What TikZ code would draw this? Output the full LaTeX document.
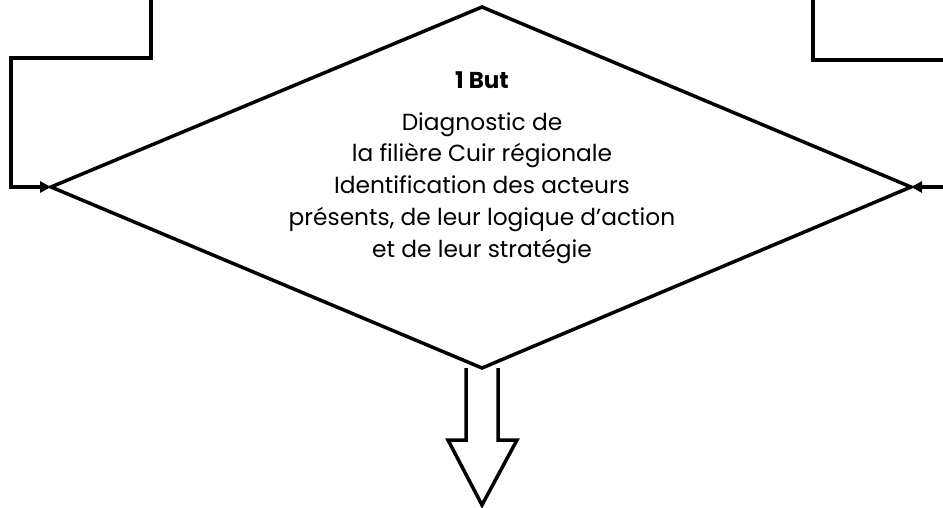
\documentclass[tikz,border=0pt]{standalone}
\usepackage{fontspec}
\setmainfont{Poppins}
\usetikzlibrary{arrows.meta}
\begin{document}
\begin{tikzpicture}[x=1pt,y=-1pt,
  conn/.style={line width=4.5pt, line join=miter, -{Triangle[length=11pt,width=11pt]}},
  plainline/.style={line width=4.5pt, line join=miter},
  outline/.style={line width=3.5pt, line join=miter},
  body/.style={align=center, font=\fontsize{23.3}{31.8}\selectfont, text=black, inner sep=0pt}]
\useasboundingbox (0,0) rectangle (943,508);
% diamond
\coordinate (T) at (482,7);
\coordinate (L) at (51,187);
\coordinate (R) at (911,187);
\coordinate (B) at (482,368);
\draw[outline] (T) -- (R) -- (B) -- (L) -- cycle;
\node[body, font=\fontsize{23}{24}\selectfont\bfseries] (title) at (482,80) {1 But};
\node[body] (txt) at (482,188)
  {Diagnostic de\\ la filière Cuir régionale\\ Identification des acteurs\\ présents, de leur logique d’action\\ et de leur stratégie};
% left connector
\coordinate (ls) at (151,-3);
\coordinate (lc1) at (151,58);
\coordinate (lc2) at (11,58);
\coordinate (lc3) at (11,187);
\draw[conn] (ls) -- (lc1) -- (lc2) -- (lc3) -- (L);
% right connector
\coordinate (rs) at (813,-3);
\coordinate (rc1) at (813,60);
\coordinate (re) at (946,60);
\draw[plainline] (rs) -- (rc1) -- (re);
\coordinate (rin) at (946,187);
\draw[conn] (rin) -- (R);
% block arrow
\draw[outline] (466,368) -- (466,440) -- (448,440) -- (482,505) -- (517,440) -- (498,440) -- (498,368);
\end{tikzpicture}
\end{document}
